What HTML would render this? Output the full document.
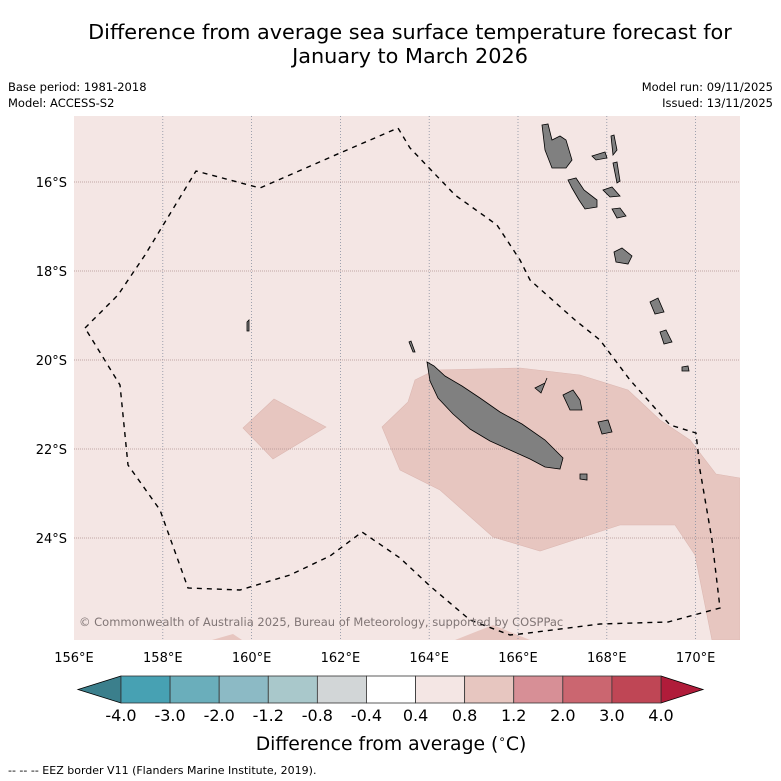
<!DOCTYPE html>
<html><head><meta charset="utf-8"><style>
body{margin:0;background:#fff;font-family:"Liberation Sans","DejaVu Sans",sans-serif;}
#c{position:relative;width:781px;height:781px;overflow:hidden;}
svg text{font-family:"DejaVu Sans","Liberation Sans",sans-serif;}
</style></head><body><div id="c">
<svg id="s" width="781" height="781" xmlns="http://www.w3.org/2000/svg">
<text x="410" y="39" font-size="20.8" text-anchor="middle">Difference from average sea surface temperature forecast for</text>
<text x="410" y="63" font-size="20.8" text-anchor="middle">January to March 2026</text>
<text x="8" y="91" font-size="11.5">Base period: 1981-2018</text>
<text x="8" y="107" font-size="11.5">Model: ACCESS-S2</text>
<text x="773" y="91" font-size="11.5" text-anchor="end">Model run: 09/11/2025</text>
<text x="773" y="107" font-size="11.5" text-anchor="end">Issued: 13/11/2025</text>
<defs><clipPath id="mc"><rect x="74" y="116" width="666" height="524"/></clipPath></defs>
<g clip-path="url(#mc)">
<rect x="74" y="116" width="666" height="524" fill="#f4e6e4"/>
<polygon points="382,427 408,402 415,380 435,370 520,368 580,375 628,390 660,420 690,440 716,474 740,478 740,640 712,640 695,555 675,525 620,525 540,551 493,537 440,490 400,470" fill="#e7c6c0" stroke="#dcb8b2" stroke-width="0.6"/>
<polygon points="243,428 274,399 326,427 273,459" fill="#e7c6c0" stroke="#dcb8b2" stroke-width="0.6"/>
<polygon points="205,642 233,634 245,642" fill="#e7c6c0"/>
<polygon points="450,642 493,625 535,642" fill="#e7c6c0"/>
<g id="grid"></g>
<polyline points="85,328 118,295 145,255 196,171 260,188 340,153 398,128 410,148 455,195 497,225 520,260 530,280 575,320 600,340 630,380 670,425 696,433 700,470 712,540 720,608 668,622 600,624 520,634 510,635 470,620 430,586 400,558 362,532 330,556 290,575 240,590 188,588 160,510 128,465 120,385 85,328" fill="none" stroke="#000" stroke-width="1.4" stroke-dasharray="5,5"/>
<g fill="#808080" stroke="#000" stroke-width="0.8">
<polygon points="427,362 434,366 445,376 462,386 480,398 500,412 522,424 545,440 563,458 560,469 545,467 530,459 510,450 490,441 470,429 453,414 438,398 430,381"/>
<polygon points="535,388 545,383 547,378 541,393"/>
<polygon points="563,395 573,390 580,400 582,410 570,410"/>
<polygon points="598,422 608,420 612,432 602,434"/>
<polygon points="580,474 587,474 587,480 580,479"/>
<polygon points="542,125 548,124 552,140 560,136 566,140 572,160 566,168 552,168 545,150"/>
<polygon points="592,156 605,152 607,158 596,160"/>
<polygon points="611,136 614,135 617,150 613,155"/>
<polygon points="613,163 617,162 620,181 617,183"/>
<polygon points="568,180 576,178 584,190 597,200 597,207 585,209 579,200 572,188"/>
<polygon points="603,190 612,187 620,196 610,197"/>
<polygon points="612,209 620,208 626,216 617,218"/>
<polygon points="614,252 622,248 632,256 628,264 616,262"/>
<polygon points="650,302 658,298 664,312 655,314"/>
<polygon points="660,332 666,330 672,342 664,344"/>
<polygon points="682,367 688,366 689,371 682,371"/>
<polygon points="247,322 249,320 249,331 247,331"/>
<polygon points="409,342 411,341 415,352 413,352"/>
</g>
<text x="79" y="626" font-size="11.5" fill="#807575">© Commonwealth of Australia 2025, Bureau of Meteorology, supported by COSPPac</text>
</g>
<g id="ax"></g>
<g id="cb"></g>
<text x="391" y="750" font-size="18.8" text-anchor="middle">Difference from average (<tspan font-size="12" dy="-7">∘</tspan><tspan dy="7">C)</tspan></text>
<text x="8" y="774" font-size="11">--  --  -- EEZ border V11 (Flanders Marine Institute, 2019).</text>
</svg></div>
<script>
const lonTicks=[156,158,160,162,164,166,168,170];
const latTicks=[16,18,20,22,24];
const cbBounds=["-4.0","-3.0","-2.0","-1.2","-0.8","-0.4","0.4","0.8","1.2","2.0","3.0","4.0"];
const cbColors=["#47a1b3","#6aaebb","#8cbac5","#a9c8cb","#d2d6d7","#ffffff","#f4e6e4","#e7c6c0","#d78f96","#cb6670","#bf4655"];
const NS="http://www.w3.org/2000/svg";
const xLon=l=>74+(l-156)*44.4;
const yLat=l=>182+(l-16)*44.5;
function mk(t,a,p){const e=document.createElementNS(NS,t);for(const k in a)e.setAttribute(k,a[k]);p.appendChild(e);return e;}
const g=document.getElementById('grid'),ax=document.getElementById('ax'),cb=document.getElementById('cb');
lonTicks.forEach(l=>{
 const x=xLon(l);
 if(l>156){const ln=mk('line',{x1:x,x2:x,y1:116,y2:640,stroke:'#8890a0','stroke-width':0.8,'stroke-dasharray':'1,2'},g);
 
 }
 const t=mk('text',{x:x,y:662,'font-size':13,'text-anchor':'middle'},ax);t.textContent=l+'°E';
 
 
});
latTicks.forEach(l=>{
 const y=yLat(l);
 const ln=mk('line',{x1:74,x2:740,y1:y,y2:y,stroke:'#b09090','stroke-width':0.8,'stroke-dasharray':'1,1'},g);
 
 
 const t=mk('text',{x:67,y:y+5,'font-size':13,'text-anchor':'end'},ax);t.textContent=l+'°S';
 
 
});
const x0=121,x1=661,y0=676,y1=703,w=(x1-x0)/cbColors.length;
const lt=mk('polygon',{points:`${x0},${y0} 78,${(y0+y1)/2} ${x0},${y1}`,fill:'#3b7f8c',stroke:'#000','stroke-width':0.8},cb);


const rt=mk('polygon',{points:`${x1},${y0} 703,${(y0+y1)/2} ${x1},${y1}`,fill:'#b01c3a',stroke:'#000','stroke-width':0.8},cb);


cbColors.forEach((c,i)=>{
 const r=mk('rect',{x:x0+i*w,y:y0,width:w,height:y1-y0,fill:c,stroke:'#333','stroke-width':0.8},cb);
 
 
});
cbBounds.forEach((b,i)=>{
 const t=mk('text',{x:x0+i*w,y:721,'font-size':16,'text-anchor':'middle'},cb);t.textContent=b;
 
 
});
</script></body></html>
